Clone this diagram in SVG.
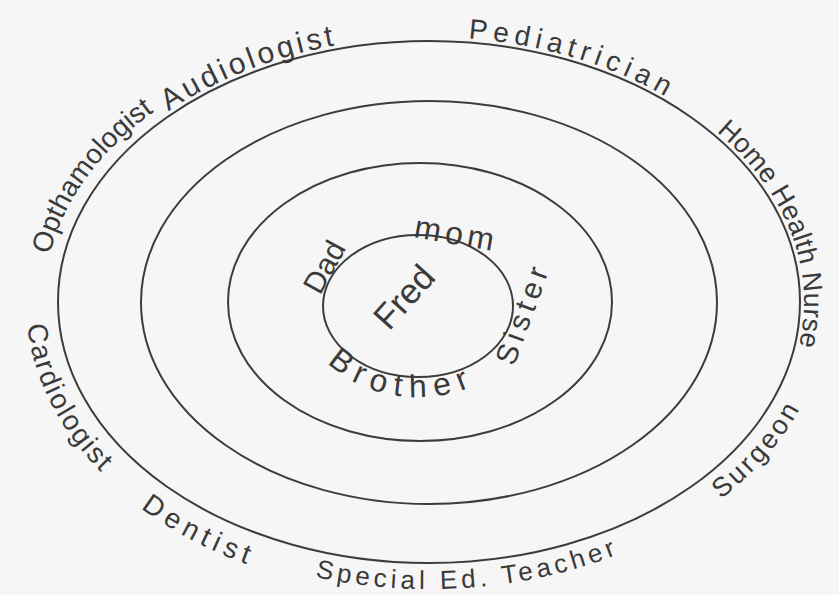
<svg xmlns="http://www.w3.org/2000/svg" xmlns:xlink="http://www.w3.org/1999/xlink" width="839" height="595" viewBox="0 0 839 595">
  <style>
    .ring { fill: none; stroke: #3c3c3c; stroke-width: 2; }
    .lbl { font-family: "Liberation Sans", "DejaVu Sans", sans-serif; fill: #3a3a3a; }
  </style>
  <defs>
    <path id="pOpth" d="M49.8,254.8 A385,272 0 0 1 208.2,79.2"/>
    <path id="pAud" d="M168.5,111.4 A375,265 0 0 1 461.7,38.0"/>
    <path id="pPed" d="M468.2,38.5 A375,265 0 0 1 736.2,150.0"/>
    <path id="pHHN" d="M716.3,131.7 A375,265 0 0 1 781.4,392.6"/>
    <path id="pCard" d="M27.2,325 A403,293 0 0 0 197.8,542"/>
    <path id="pDent" d="M140.8,508.1 A404,294 0 0 0 358.9,591.5"/>
    <path id="pSpec" d="M315,577 A397,287 0 0 0 733.1,486.5"/>
    <path id="pSurg" d="M720.8,499.1 A399,289 0 0 0 828,302"/>
    <path id="pBro" d="M327.5,362.5 A115,91 0 0 0 506.1,364.5"/>
  </defs>
  <rect x="0" y="0" width="839" height="595" fill="#f6f6f6"/>

  <g id="rings">
    <ellipse id="ring-outer" class="ring" cx="429" cy="302" rx="371" ry="261"/>
    <ellipse id="ring-second" class="ring" cx="429" cy="302.5" rx="288" ry="201.5"/>
    <ellipse id="ring-third" class="ring" cx="420" cy="302" rx="192" ry="139"/>
    <ellipse id="ring-inner" class="ring" cx="418" cy="306" rx="95" ry="71"/>
  </g>

  <g id="node-fred">
    <text class="lbl" x="413" y="305" font-size="35" text-anchor="middle" transform="rotate(-48 413 305)">Fred</text>
  </g>
  <g id="node-dad">
    <text class="lbl" x="320" y="296" font-size="30" transform="rotate(-61 320 296)">Dad</text>
  </g>
  <g id="node-mom">
    <text class="lbl" x="413" y="237" font-size="32" letter-spacing="4.5" transform="rotate(10 413 237)">mom</text>
  </g>
  <g id="node-sister">
    <text class="lbl" x="514" y="367" font-size="30" letter-spacing="5" transform="rotate(-70 514 367)">Sister</text>
  </g>
  <g id="node-brother">
    <text class="lbl" font-size="32" letter-spacing="8"><textPath href="#pBro" xlink:href="#pBro">Brother</textPath></text>
  </g>

  <g id="node-opthamologist">
    <text class="lbl" font-size="28"><textPath href="#pOpth" xlink:href="#pOpth">Opthamologist</textPath></text>
  </g>
  <g id="node-audiologist">
    <text class="lbl" font-size="30" letter-spacing="3.3"><textPath href="#pAud" xlink:href="#pAud">Audiologist</textPath></text>
  </g>
  <g id="node-pediatrician">
    <text class="lbl" font-size="28" letter-spacing="5.5"><textPath href="#pPed" xlink:href="#pPed">Pediatrician</textPath></text>
  </g>
  <g id="node-home-health-nurse">
    <text class="lbl" font-size="27" letter-spacing="0.3"><textPath href="#pHHN" xlink:href="#pHHN">Home Health Nurse</textPath></text>
  </g>
  <g id="node-cardiologist">
    <text class="lbl" font-size="28" letter-spacing="1.8"><textPath href="#pCard" xlink:href="#pCard">Cardiologist</textPath></text>
  </g>
  <g id="node-dentist">
    <text class="lbl" font-size="28" letter-spacing="5.5"><textPath href="#pDent" xlink:href="#pDent">Dentist</textPath></text>
  </g>
  <g id="node-special-ed-teacher">
    <text class="lbl" font-size="26" letter-spacing="4.2"><textPath href="#pSpec" xlink:href="#pSpec">Special Ed. Teacher</textPath></text>
  </g>
  <g id="node-surgeon">
    <text class="lbl" font-size="27" letter-spacing="3"><textPath href="#pSurg" xlink:href="#pSurg">Surgeon</textPath></text>
  </g>
</svg>
